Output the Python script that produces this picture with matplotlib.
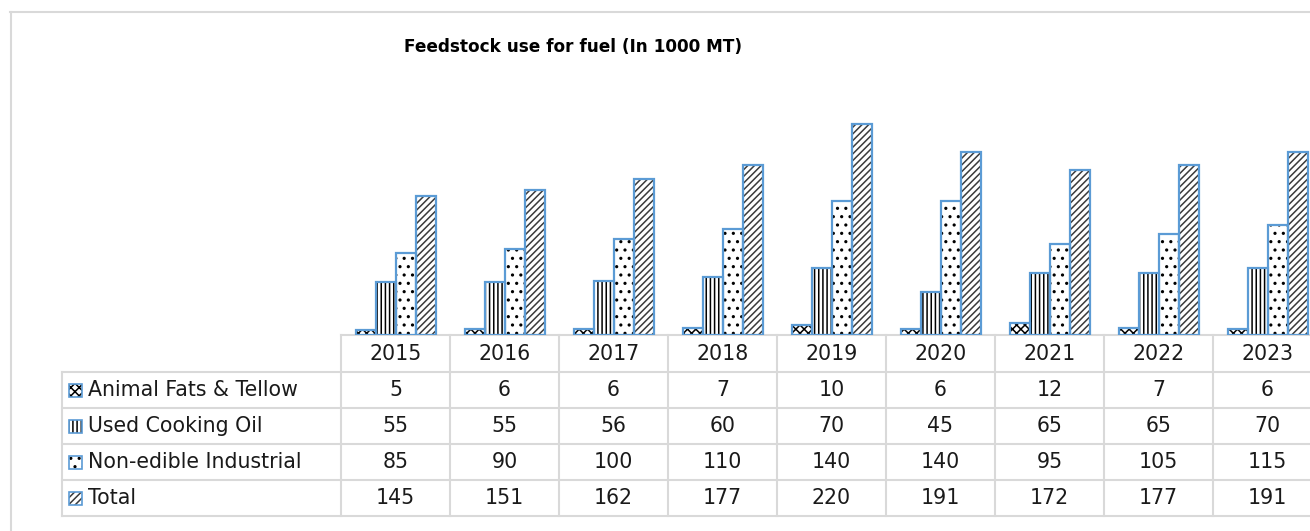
import matplotlib
matplotlib.use("Agg")
import matplotlib.pyplot as plt
import matplotlib.transforms as mtransforms
from matplotlib.patches import Rectangle
from matplotlib.lines import Line2D
import numpy as np

# Data (in 1000 MT)
years = ["2015", "2016", "2017", "2018", "2019", "2020", "2021", "2022", "2023"]
series_names = ["Animal Fats & Tellow", "Used Cooking Oil", "Non-edible Industrial", "Total"]
animal_fats = [5, 6, 6, 7, 10, 6, 12, 7, 6]
used_cooking_oil = [55, 55, 56, 60, 70, 45, 65, 65, 70]
non_edible = [85, 90, 100, 110, 140, 140, 95, 105, 115]
total = [145, 151, 162, 177, 220, 191, 172, 177, 191]

series_values = [animal_fats, used_cooking_oil, non_edible, total]
hatches = ["xxxx", "||||", "..", "/////"]
hatch_colors = ["black", "black", "black", "#3a3a3a"]

W, H = 1310, 531
edge_blue = "#5B9BD5"
grid_gray = "#D9D9D9"
text_color = "#1a1a1a"
table_font = 14.8

plt.rcParams["hatch.linewidth"] = 1.1
plt.rcParams["font.family"] = "DejaVu Sans"

fig = plt.figure(figsize=(W / 100, H / 100), dpi=100)


def fx(px):
    return px / W


def fy(py):
    # pixel from top -> figure fraction
    return 1 - py / H


# outer chart frame
fig.add_artist(Line2D([fx(10.5), fx(10.5)], [fy(12), 0], color=grid_gray, lw=1.5))
fig.add_artist(Line2D([fx(10), 1], [fy(12), fy(12)], color=grid_gray, lw=1.5))

# plot area
col_left, col_w = 341, 109
base_y, top_y = 335, 95
ax = fig.add_axes([fx(col_left), fy(base_y), fx(col_w * len(years)), (base_y - top_y) / H])
ax.set_xlim(-0.5, len(years) - 0.5)
ax.set_ylim(0, 250)
for side in ["left", "right", "top"]:
    ax.spines[side].set_visible(False)
ax.spines["bottom"].set_color(grid_gray)
ax.spines["bottom"].set_linewidth(1.5)
ax.set_xticks([])
ax.set_yticks([])
ax.patch.set_alpha(0)

x = np.arange(len(years))
bar_w = 20 / col_w
offsets = (np.arange(4) - 1.5) * bar_w
for vals, off, h, hc in zip(series_values, offsets, hatches, hatch_colors):
    ax.bar(x + off, vals, width=bar_w, color="white", edgecolor=hc,
           linewidth=0, hatch=h, zorder=2)
    ax.bar(x + off, vals, width=bar_w, fill=False, edgecolor=edge_blue,
           linewidth=1.6, zorder=3)

fig.text(fx(573), fy(47), "Feedstock use for fuel (In 1000 MT)", ha="center", va="center",
         fontsize=12.2, fontweight="bold", color="black")

# data table below the plot
blend = mtransforms.blended_transform_factory(ax.transData, fig.transFigure)
row_lines = [372, 408, 444, 480, 516]
table_bottom = row_lines[-1]
label_left = 62

for i in range(len(years) + 1):
    ax.add_line(Line2D([i - 0.5, i - 0.5], [fy(base_y), fy(table_bottom)], transform=blend,
                       color=grid_gray, lw=1.5, clip_on=False))
for ry in row_lines:
    fig.add_artist(Line2D([fx(label_left), 1], [fy(ry), fy(ry)], color=grid_gray, lw=1.5))
fig.add_artist(Line2D([fx(label_left), fx(label_left)], [fy(row_lines[0]), fy(table_bottom)],
                      color=grid_gray, lw=1.5))

header_y = (base_y + row_lines[0]) / 2
for i, yr in enumerate(years):
    ax.text(i, fy(header_y), yr, transform=blend, ha="center", va="center",
            fontsize=table_font, color=text_color)

for r, (name, vals, h, hc) in enumerate(zip(series_names, series_values, hatches, hatch_colors)):
    cy = (row_lines[r] + row_lines[r + 1]) / 2
    key = Rectangle((fx(69), fy(cy + 6.5)), fx(13), 13 / H, transform=fig.transFigure,
                    facecolor="white", edgecolor=hc, linewidth=0, hatch=h)
    fig.add_artist(key)
    fig.add_artist(Rectangle((fx(69), fy(cy + 6.5)), fx(13), 13 / H, transform=fig.transFigure,
                             fill=False, edgecolor=edge_blue, linewidth=1.2))
    fig.text(fx(88), fy(cy), name, ha="left", va="center", fontsize=table_font, color=text_color)
    for i, v in enumerate(vals):
        ax.text(i, fy(cy), str(v), transform=blend, ha="center", va="center",
                fontsize=table_font, color=text_color)

fig.savefig("out.png", dpi=100)
